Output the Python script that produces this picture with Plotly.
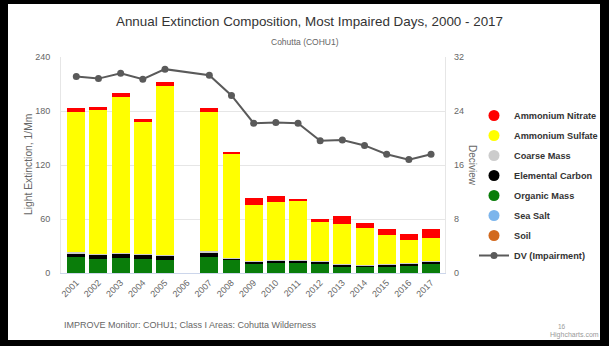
import plotly.graph_objects as go

# ---------------- data ----------------
years = [str(y) for y in range(2001, 2018)]
ammonium_nitrate = [4, 4, 4.5, 3.5, 5, None, 4, 2.5, 7, 6.5, 2.5, 3.4, 8, 5, 7, 6.5, 10]
ammonium_sulfate = [156, 160, 173, 147, 188, None, 155, 115, 62.5, 65, 66, 44, 45, 41.5, 32.5, 25, 25]
coarse_mass = [1, 1, 1, 1, 0.5, None, 1, 0.5, 0.5, 0.5, 0.5, 0.5, 0.5, 0.5, 0.5, 1.5, 0.5]
elemental_carbon = [4, 4, 4.5, 4, 5, None, 5, 2.5, 3, 2, 2, 1.5, 2, 1.5, 2, 2, 2]
organic_mass = [17.6, 15.6, 16.6, 15.6, 13.6, None, 17.6, 13.6, 9.7, 11.2, 11.2, 10.7, 7.2, 6.7, 6.7, 7.7, 10.7]
sea_salt = [0.1, 0.1, 0.1, 0.1, 0.1, None, 0.1, 0.1, 0.1, 0.1, 0.1, 0.1, 0.1, 0.1, 0.1, 0.1, 0.1]
soil = [0.3, 0.3, 0.3, 0.3, 0.3, None, 0.3, 0.3, 0.2, 0.2, 0.2, 0.2, 0.2, 0.2, 0.2, 0.2, 0.2]
deciview = [29.1, 28.8, 29.6, 28.7, 30.2, None, 29.3, 26.3, 22.2, 22.3, 22.2, 19.6, 19.7, 18.9, 17.6, 16.8, 17.6]

series = [  # legend order (top of stack first)
    ("Ammonium Nitrate", ammonium_nitrate, "#FF0000"),
    ("Ammonium Sulfate", ammonium_sulfate, "#FFFF00"),
    ("Coarse Mass", coarse_mass, "#CCCCCC"),
    ("Elemental Carbon", elemental_carbon, "#000000"),
    ("Organic Mass", organic_mass, "#0A7D0A"),
    ("Sea Salt", sea_salt, "#7CB5EC"),
    ("Soil", soil, "#D2691E"),
]
DV_COLOR = "#5A5A5A"

W, H = 609, 346
L, R, T, B = 61, 445, 57, 273  # plot area in pixels


def px(x):
    return (x - L) / (R - L)


def py(y):
    return (B - y) / (B - T)


fig = go.Figure()

# stacked bars (bottom of stack first)
for name, vals, color in reversed(series):
    fig.add_trace(go.Bar(x=years, y=vals, name=name, marker=dict(color=color, line=dict(width=0)),
                         showlegend=False, legendgroup=name))

# legend entries with round symbols
for name, vals, color in series:
    fig.add_trace(go.Scatter(x=[None], y=[None], mode="markers", name=name,
                             marker=dict(symbol="circle", size=11, color=color),
                             legendgroup=name, showlegend=True))

fig.add_trace(go.Scatter(x=years, y=deciview, name="DV (Impairment)", mode="lines+markers",
                         yaxis="y2", connectgaps=True, legendgroup="dv",
                         line=dict(color=DV_COLOR, width=2),
                         marker=dict(symbol="circle", size=7, color=DV_COLOR)))

grid = "#E6E6E6"
tickfont = dict(family="Liberation Sans, Arial, sans-serif", size=9, color="#666666")

fig.update_layout(
    width=W, height=H,
    margin=dict(l=L, r=W - R, t=T, b=H - B, pad=0, autoexpand=False),
    paper_bgcolor="white", plot_bgcolor="white",
    barmode="stack", bargap=0.19,
    font=dict(family="Liberation Sans, Arial, sans-serif", color="#333333"),
    title=dict(text="Annual Extinction Composition, Most Impaired Days, 2000 - 2017",
               x=309.5 / W, xanchor="center", y=1 - 21 / H, yanchor="middle", xref="container", yref="container",
               font=dict(size=13.4, color="#333333")),
    xaxis=dict(type="category", range=[-0.69, 16.63], tickangle=-45, tickfont=tickfont,
               showgrid=False, showline=True, linecolor="#CCD6EB", linewidth=1, mirror=False,
               ticks="", fixedrange=True, automargin=False),
    yaxis=dict(range=[0, 240], tickvals=[0, 60, 120, 180, 240], tickfont=tickfont,
               showgrid=True, gridcolor=grid, gridwidth=1, zeroline=False, automargin=False,
               showline=True, linecolor=grid, mirror=True, ticks="", ticklabelstandoff=8),
    yaxis2=dict(range=[0, 32], tickvals=[0, 8, 16, 24, 32], tickfont=tickfont, overlaying="y",
                side="right", showgrid=False, zeroline=False, showline=False, ticks="",
                ticklabelstandoff=8, automargin=False),
    legend=dict(x=px(474), xanchor="left", y=py(101), yanchor="top", traceorder="grouped",
                tracegroupgap=1, font=dict(size=9.2, color="#333333", weight="bold"),
                bgcolor="rgba(0,0,0,0)", itemwidth=30),
    showlegend=True,
)

ann = [
    dict(text="Cohutta (COHU1)", x=px(305), y=py(42), font=dict(size=8.5, color="#666666")),
    dict(text="Light Extinction, 1/Mm", x=px(28), y=py(165), textangle=-90, font=dict(size=10.3, color="#666666")),
    dict(text="Deciview", x=px(473), y=py(165), textangle=90, font=dict(size=10, color="#666666")),
    dict(text="IMPROVE Monitor: COHU1; Class I Areas: Cohutta Wilderness", x=px(62), y=py(325),
         xanchor="left", font=dict(size=9, color="#666666")),
    dict(text="16", x=px(556), y=py(326), xanchor="left", font=dict(size=6.5, color="#999999")),
    dict(text="Highcharts.com", x=px(601), y=py(335), xanchor="right", font=dict(size=7, color="#999999")),
]
for a in ann:
    a.setdefault("xanchor", "center")
    fig.add_annotation(xref="paper", yref="paper", yanchor="middle", showarrow=False, **a)

# black frame around the picture
frame = [(0, 0, 8, H), (0, 0, W, 4), (600, 0, W, H), (0, 340, W, H)]
for x0, y0, x1, y1 in frame:
    fig.add_shape(type="rect", xref="paper", yref="paper", x0=px(x0), x1=px(x1), y0=py(y0), y1=py(y1),
                  fillcolor="black", line=dict(width=0), layer="above")

fig.write_html("out.html", config={"displayModeBar": False},
               post_script="document.body.style.margin='0';document.body.style.overflow='hidden';")
